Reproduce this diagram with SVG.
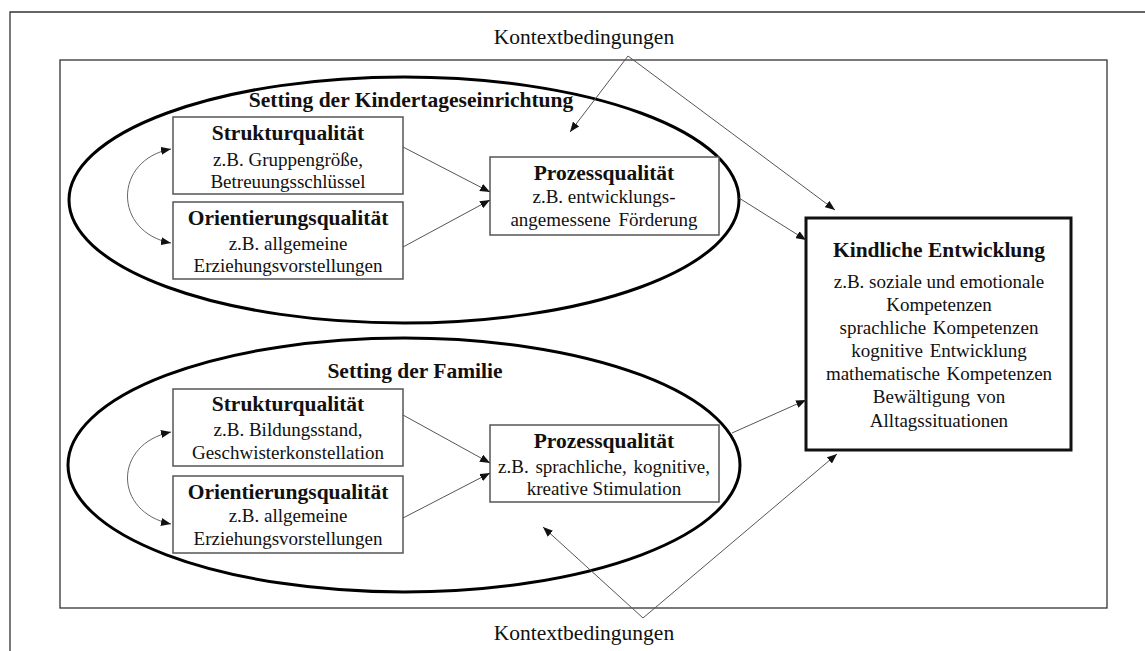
<svg xmlns="http://www.w3.org/2000/svg" width="1145" height="651" viewBox="0 0 1145 651">
  <style>
    text { font-family: "Liberation Serif", "Times New Roman", serif; fill: #111; text-anchor: middle; }
    .title { font-size: 21.5px; font-weight: bold; }
    .body { font-size: 19px; }
    .ctx { font-size: 21.5px; }
    .frame { fill: none; stroke: #333; stroke-width: 1.3; }
    .setting { fill: none; stroke: #000; stroke-width: 3; }
    .box { fill: #fff; stroke: #555; stroke-width: 1.5; }
    .outcome { fill: #fff; stroke: #111; stroke-width: 3; }
    .conn { fill: none; stroke: #555; stroke-width: 1; marker-end: url(#arrow); }
    .loop { fill: none; stroke: #666; stroke-width: 1; marker-start: url(#arrow); marker-end: url(#arrow); }
  </style>
  <defs>
    <marker id="arrow" markerUnits="userSpaceOnUse" markerWidth="10" markerHeight="8" viewBox="0 0 10 8" refX="10" refY="4" orient="auto-start-reverse">
      <path d="M0,0 L10,4 L0,8 z" fill="#111"/>
    </marker>
  </defs>

  <rect width="1145" height="651" fill="#fff"/>

  <!-- outer page frame and model boundary -->
  <path class="frame" d="M10,660 L10,12 L1160,12"/>
  <rect class="frame" x="60" y="60" width="1047" height="548"/>

  <!-- settings -->
  <g id="setting-kita">
    <ellipse class="setting" cx="404" cy="200" rx="335" ry="123"/>
    <text class="title" x="411" y="107">Setting der Kindertageseinrichtung</text>
  </g>
  <g id="setting-familie">
    <ellipse class="setting" cx="404" cy="465" rx="336" ry="127"/>
    <text class="title" x="415" y="378">Setting der Familie</text>
  </g>

  <!-- Kita nodes -->
  <g id="kita-struktur">
    <rect class="box" x="173" y="117" width="230" height="77"/>
    <text class="title" x="288" y="140">Strukturqualität</text>
    <text class="body" x="288" y="166">z.B. Gruppengröße,</text>
    <text class="body" x="288" y="188">Betreuungsschlüssel</text>
  </g>
  <g id="kita-orientierung">
    <rect class="box" x="173" y="202" width="230" height="77"/>
    <text class="title" x="288" y="225">Orientierungsqualität</text>
    <text class="body" x="288" y="250">z.B. allgemeine</text>
    <text class="body" x="288" y="272">Erziehungsvorstellungen</text>
  </g>
  <g id="kita-prozess">
    <rect class="box" x="490" y="157" width="229" height="78"/>
    <text class="title" x="604" y="180">Prozessqualität</text>
    <text class="body" x="604" y="203">z.B. entwicklungs-</text>
    <text class="body" x="604" y="226" word-spacing="3">angemessene Förderung</text>
  </g>

  <!-- family nodes -->
  <g id="familie-struktur">
    <rect class="box" x="173" y="389" width="230" height="77"/>
    <text class="title" x="288" y="411">Strukturqualität</text>
    <text class="body" x="288" y="436">z.B. Bildungsstand,</text>
    <text class="body" x="288" y="459">Geschwisterkonstellation</text>
  </g>
  <g id="familie-orientierung">
    <rect class="box" x="173" y="476" width="230" height="77"/>
    <text class="title" x="288" y="499">Orientierungsqualität</text>
    <text class="body" x="288" y="522">z.B. allgemeine</text>
    <text class="body" x="288" y="545">Erziehungsvorstellungen</text>
  </g>
  <g id="familie-prozess">
    <rect class="box" x="490" y="425" width="229" height="77"/>
    <text class="title" x="604" y="448">Prozessqualität</text>
    <text class="body" x="604" y="473" word-spacing="2">z.B. sprachliche, kognitive,</text>
    <text class="body" x="604" y="495">kreative Stimulation</text>
  </g>

  <!-- outcome -->
  <g id="kindliche-entwicklung">
    <rect class="outcome" x="806" y="218" width="265" height="232"/>
    <text class="title" x="939" y="257">Kindliche Entwicklung</text>
    <text class="body" x="939" y="288">z.B. soziale und emotionale</text>
    <text class="body" x="939" y="311">Kompetenzen</text>
    <text class="body" x="939" y="334" word-spacing="2">sprachliche Kompetenzen</text>
    <text class="body" x="939" y="357" word-spacing="2">kognitive Entwicklung</text>
    <text class="body" x="939" y="380" word-spacing="2">mathematische Kompetenzen</text>
    <text class="body" x="939" y="403" word-spacing="2">Bewältigung von</text>
    <text class="body" x="939" y="427">Alltagssituationen</text>
  </g>

  <!-- context labels -->
  <g id="kontext-oben">
    <text class="ctx" x="584" y="44">Kontextbedingungen</text>
  </g>
  <g id="kontext-unten">
    <text class="ctx" x="584" y="640">Kontextbedingungen</text>
  </g>

  <!-- connectors -->
  <g id="connectors">
    <path class="conn" d="M403,147 L490,192"/>
    <path class="conn" d="M403,247 L490,200"/>
    <path class="conn" d="M739,198 L806,240"/>
    <path class="conn" d="M628,56 L570,132"/>
    <path class="conn" d="M628,56 L835,210"/>

    <path class="conn" d="M403,415 L490,463"/>
    <path class="conn" d="M403,518 L490,473"/>
    <path class="conn" d="M732,433 L806,400"/>
    <path class="conn" d="M643,618 L543,527"/>
    <path class="conn" d="M643,618 L837,454"/>

    <path class="loop" d="M171,149 C113,160 113,232 171,243"/>
    <path class="loop" d="M171,432 C113,444 113,512 171,524"/>
  </g>
</svg>
